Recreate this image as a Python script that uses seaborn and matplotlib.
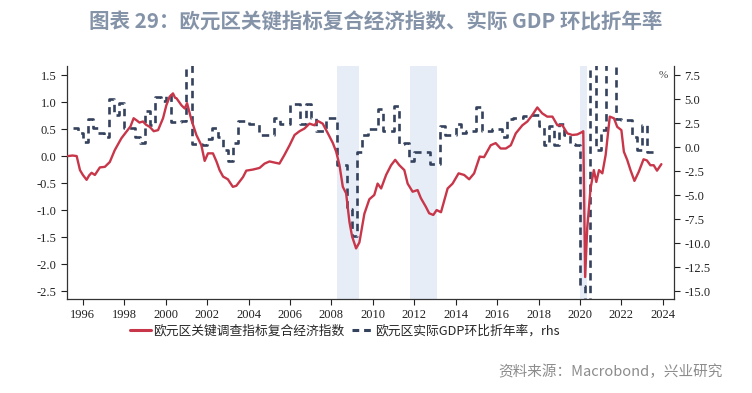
import numpy as np
import pandas as pd
import matplotlib
matplotlib.use("Agg")
import matplotlib.pyplot as plt
from matplotlib.lines import Line2D
import seaborn as sns

# 欧元区关键调查指标复合经济指数（月度，左轴）
ind_dates = [1995.29, 1995.5, 1995.7, 1995.86, 1996.0, 1996.18, 1996.3, 1996.42, 1996.58, 1996.82,
             1997.06, 1997.3, 1997.54, 1997.86, 1998.1, 1998.3, 1998.45, 1998.6, 1998.73, 1998.9,
             1999.05, 1999.23, 1999.42, 1999.63, 1999.87, 2000.03, 2000.19, 2000.35, 2000.45, 2000.52,
             2000.76, 2000.92, 2001.03, 2001.24, 2001.48, 2001.72, 2001.88, 2002.04, 2002.28, 2002.45,
             2002.6, 2002.77, 2003.0, 2003.24, 2003.41, 2003.73, 2003.89, 2004.21, 2004.53, 2004.77,
             2005.01, 2005.25, 2005.49, 2005.73, 2005.98, 2006.22, 2006.46, 2006.7, 2006.94, 2007.18,
             2007.34, 2007.58, 2007.83, 2008.07, 2008.23, 2008.39, 2008.55, 2008.71, 2008.87, 2009.0,
             2009.19, 2009.35, 2009.59, 2009.83, 2010.07, 2010.23, 2010.4, 2010.64, 2010.88, 2011.08,
             2011.28, 2011.52, 2011.68, 2011.92, 2012.16, 2012.32, 2012.56, 2012.72, 2012.92, 2013.08,
             2013.29, 2013.61, 2013.85, 2014.14, 2014.41, 2014.65, 2014.89, 2015.16, 2015.37, 2015.69,
             2015.93, 2016.17, 2016.42, 2016.66, 2016.9, 2017.22, 2017.46, 2017.7, 2017.94, 2018.18,
             2018.42, 2018.67, 2018.91, 2019.15, 2019.39, 2019.63, 2019.87, 2020.08, 2020.16, 2020.25,
             2020.35, 2020.51, 2020.67, 2020.79, 2020.92, 2021.08, 2021.24, 2021.44, 2021.64, 2021.8,
             2022.0, 2022.12, 2022.28, 2022.44, 2022.63, 2022.84, 2023.07, 2023.23, 2023.4, 2023.56,
             2023.72, 2023.93]
ind_values = [0.00, 0.01, 0.00, -0.26, -0.35, -0.44, -0.36, -0.31, -0.35, -0.21,
              -0.20, -0.11, 0.11, 0.33, 0.45, 0.55, 0.70, 0.66, 0.62, 0.64,
              0.58, 0.54, 0.46, 0.48, 0.70, 0.94, 1.10, 1.16, 1.08, 1.07,
              0.94, 0.88, 0.98, 0.67, 0.39, 0.20, -0.09, 0.05, 0.05, -0.10,
              -0.26, -0.38, -0.43, -0.57, -0.55, -0.39, -0.27, -0.25, -0.22, -0.14,
              -0.10, -0.12, -0.14, 0.02, 0.20, 0.39, 0.46, 0.51, 0.60, 0.57,
              0.65, 0.60, 0.42, 0.24, 0.08, -0.17, -0.57, -0.69, -1.22, -1.49,
              -1.71, -1.60, -1.07, -0.80, -0.72, -0.51, -0.60, -0.35, -0.17, -0.07,
              -0.17, -0.26, -0.51, -0.66, -0.63, -0.78, -0.94, -1.06, -1.09, -1.00,
              -1.04, -0.60, -0.51, -0.32, -0.35, -0.43, -0.32, -0.01, -0.02, 0.20,
              0.24, 0.14, 0.14, 0.20, 0.42, 0.57, 0.64, 0.76, 0.90, 0.79,
              0.73, 0.73, 0.57, 0.57, 0.42, 0.39, 0.40, 0.44, 0.46, -2.24,
              -1.34, -0.60, -0.26, -0.48, -0.26, -0.32, 0.02, 0.73, 0.70, 0.54,
              0.48, 0.08, -0.07, -0.26, -0.46, -0.29, -0.06, -0.08, -0.17, -0.17,
              -0.27, -0.15]

# 欧元区实际GDP环比折年率（季度，右轴），1995Q3 起
gdp_start = 1995.5
gdp_values = [2.0, 1.5, 0.5, 2.9, 2.0, 1.5, 1.1, 5.0, 3.3, 4.6,
              2.0, 2.0, 1.0, 0.4, 3.8, 2.3, 5.2, 4.8, 5.4, 2.6,
              2.6, 2.7, 9.0, 0.3, 0.3, 0.2, 0.8, 2.0, 1.0, -0.3,
              -1.4, 0.4, 2.7, 2.7, 2.4, 2.4, 1.3, 1.3, 1.3, 3.0,
              2.4, 2.4, 4.5, 4.5, 2.4, 4.5, 3.0, 1.7, 1.7, 3.0,
              3.0, -1.9, -1.9, -6.5, -9.3, -0.5, 1.3, 1.9, 1.9, 4.0,
              1.7, 1.7, 4.3, 0.3, 0.4, -1.5, -0.5, -0.5, -0.5, -1.8,
              -1.8, 2.2, 1.3, 1.3, 2.4, 1.5, 1.7, 1.7, 4.2, 1.7,
              1.7, 1.9, 1.9, 1.0, 2.9, 3.0, 3.0, 3.2, 3.3, 3.3,
              2.2, 0.2, 2.2, 0.2, 2.4, 1.3, 0.3, 0.2, -14.5, -40.0,
              40.0, -0.3, 1.8, 9.0, 9.0, 2.9, 2.8, 2.8, 1.0, -0.3,
              2.3, -0.5, -0.5]

recessions = [(2008.27, 2009.33), (2011.77, 2013.08), (2019.98, 2020.33)]

left_ticks = [-2.5, -2.0, -1.5, -1.0, -0.5, 0.0, 0.5, 1.0, 1.5]
right_ticks = [-15.0, -12.5, -10.0, -7.5, -5.0, -2.5, 0.0, 2.5, 5.0, 7.5]
year_ticks = list(range(1996, 2025, 2))

ind_df = pd.DataFrame({"date": ind_dates, "value": ind_values})
gdp_dates = [gdp_start + 0.25 * i for i in range(len(gdp_values))]
# 最后一个季度补足横线
gdp_df = pd.DataFrame({"date": gdp_dates + [gdp_dates[-1] + 0.25],
                       "value": gdp_values + [gdp_values[-1]]})

RED = "#c8364a"
NAVY = "#34425e"

sns.set_style("ticks")
plt.rcParams["font.family"] = ["Liberation Serif", "Noto Sans CJK SC"]
plt.rcParams["axes.unicode_minus"] = False

fig = plt.figure(figsize=(7.52, 3.93), dpi=100)
ax = fig.add_axes([0.089, 0.239, 0.807, 0.593])
ax2 = ax.twinx()

for a, b in recessions:
    ax2.axvspan(a, b, color="#e6edf7", lw=0, zorder=0)

sns.lineplot(data=gdp_df, x="date", y="value", ax=ax2, color=NAVY, lw=1.9,
             drawstyle="steps-post", dashes=False, linestyle=(0, (2.8, 2.0)), zorder=2)
sns.lineplot(data=ind_df, x="date", y="value", ax=ax, color=RED, lw=1.7, zorder=3)

ax.set_zorder(ax2.get_zorder() + 1)
ax.patch.set_visible(False)

ax.set_xlim(1995.23, 2024.53)
ax.set_ylim(-2.648, 1.667)
ax2.set_ylim(-15.83, 8.44)
ax.set_xticks(year_ticks)
ax.set_xticklabels([str(y) for y in year_ticks])
ax.set_yticks(left_ticks)
ax.set_yticklabels([f"{v:.1f}" for v in left_ticks])
ax2.set_yticks(right_ticks)
ax2.set_yticklabels([f"{v:.1f}" for v in right_ticks])
ax.set_xlabel("")
ax.set_ylabel("")
ax2.set_ylabel("")

for a in (ax, ax2):
    a.tick_params(labelsize=9, length=4, width=0.8, colors="#222222", direction="out")
    for side in ("left", "right", "bottom"):
        a.spines[side].set_visible(True)
        a.spines[side].set_color("#333333")
        a.spines[side].set_linewidth(0.9)
    a.spines["top"].set_visible(False)
ax.spines["right"].set_visible(False)
ax2.spines["left"].set_visible(False)
ax2.spines["bottom"].set_visible(False)

ax2.text(0.99, 0.98, "%", transform=ax2.transAxes, ha="right", va="top",
         fontsize=8, color="#444444")

fig.text(0.5, 0.944, "图表 29：欧元区关键指标复合经济指数、实际 GDP 环比折年率",
         ha="center", va="center", fontsize=14.8, fontweight="bold", color="#8493a8",
         family=["Noto Sans CJK SC", "DejaVu Sans"])

handles = [Line2D([], [], color=RED, lw=2.2),
           Line2D([], [], color=NAVY, lw=2.2, linestyle=(0, (2.2, 1.6)))]
labels = ["欧元区关键调查指标复合经济指数", "欧元区实际GDP环比折年率，rhs"]
fig.legend(handles, labels, loc="center", bbox_to_anchor=(0.459, 0.158), ncol=2,
           frameon=False, handlelength=1.6, handletextpad=0.2, columnspacing=0.6,
           prop={"family": ["Noto Sans CJK SC", "DejaVu Sans"], "size": 9.2})

fig.text(0.961, 0.053, "资料来源：Macrobond，兴业研究", ha="right", va="center",
         fontsize=10.5, color="#8c8c8c", family=["Noto Sans CJK SC", "DejaVu Sans"])

fig.savefig("out.png", dpi=100)
